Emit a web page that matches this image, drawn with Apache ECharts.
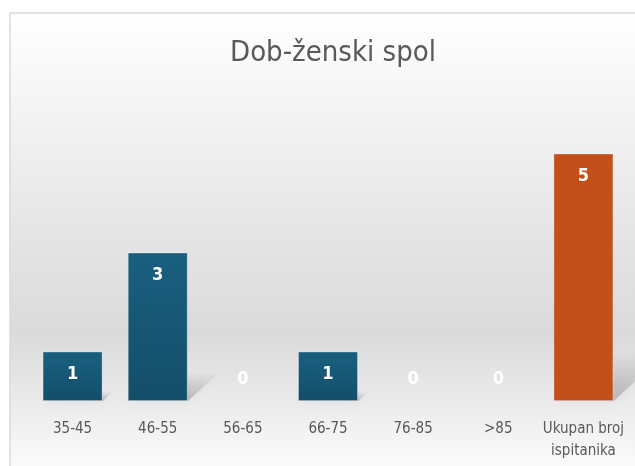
<!DOCTYPE html>
<html>
<head>
<meta charset="utf-8">
<script src="https://cdn.jsdelivr.net/npm/echarts@6/dist/echarts.min.js"></script>
<style>
  html, body { margin: 0; padding: 0; background: #fff; }
  #chart { width: 635px; height: 466px; }
</style>
</head>
<body>
<div id="chart"></div>
<script>
var titleText = 'Dob-ženski spol';
var categories = ['35-45', '46-55', '56-65', '66-75', '76-85', '>85', 'Ukupan broj\nispitanika'];
var values = [1, 3, 0, 1, 0, 0, 5];
var totalIndex = 6;

var narrow = "'Liberation Sans Narrow', 'DejaVu Sans Condensed', 'Liberation Sans', sans-serif";
var blueFill = new echarts.graphic.LinearGradient(0, 0, 0, 1, [
  { offset: 0, color: '#1a5f80' },
  { offset: 1, color: '#134e69' }
]);

var barData = values.map(function (v, i) {
  var item = {
    value: v,
    itemStyle: { color: i === totalIndex ? '#c2501a' : blueFill }
  };
  if (v === 0) {
    item.itemStyle.borderWidth = 0;
    item.label = { position: 'top', distance: 13 };
  }
  return item;
});

var shadowData = values.map(function (v, i) { return [i, v]; });

var chart = echarts.init(document.getElementById('chart'));
var option = {
  animation: false,
  backgroundColor: '#ffffff',
  graphic: [{
    type: 'rect',
    z: -10,
    shape: { x: 10, y: 13, width: 640, height: 470 },
    style: {
      stroke: '#d9d9d9',
      lineWidth: 1.5,
      fill: new echarts.graphic.LinearGradient(0, 0, 0, 1, [
        { offset: 0, color: '#ffffff' },
        { offset: 0.68, color: '#dadada' },
        { offset: 1, color: '#ffffff' }
      ])
    }
  }],
  title: {
    text: titleText,
    left: 328,
    top: 34,
    textAlign: 'center',
    textStyle: {
      fontFamily: narrow,
      fontSize: 29,
      fontWeight: 'normal',
      color: '#595959'
    }
  },
  grid: {
    left: 30,
    right: 9,
    top: 104,
    bottom: 65
  },
  xAxis: {
    type: 'category',
    data: categories,
    axisLine: { show: false },
    axisTick: { show: false },
    axisLabel: {
      margin: 17,
      interval: 0,
      fontFamily: narrow,
      fontSize: 15,
      lineHeight: 22,
      color: '#595959'
    }
  },
  yAxis: {
    type: 'value',
    min: 0,
    max: 6,
    show: false,
    splitLine: { show: false }
  },
  series: [{
    type: 'custom',
    z: 1,
    silent: true,
    data: shadowData,
    renderItem: function (params, api) {
      var base = api.coord([api.value(0), 0]);
      var top = api.coord([api.value(0), api.value(1)]);
      var w = api.size([1, 0])[0] * 0.71;
      var h = base[1] - top[1];
      if (h <= 0) return;
      var dx = h * 0.22, dy = h * 0.2;
      var x0 = base[0] - w / 2, x1 = base[0] + w / 2;
      return {
        type: 'polygon',
        shape: {
          points: [[x0, base[1]], [x1, base[1]], [x1 + dx, base[1] - dy], [x0 + dx, base[1] - dy]]
        },
        style: {
          fill: new echarts.graphic.LinearGradient(0, 1, 0, 0, [
            { offset: 0, color: 'rgba(0,0,0,0.2)' },
            { offset: 1, color: 'rgba(0,0,0,0)' }
          ]),
          shadowBlur: 12,
          shadowColor: 'rgba(0,0,0,0.25)'
        }
      };
    }
  }, {
    type: 'bar',
    z: 2,
    barWidth: 60,
    data: barData,
    itemStyle: {
      borderColor: 'rgba(255,255,255,0.3)',
      borderWidth: 1
    },
    label: {
      show: true,
      position: 'insideTop',
      distance: 14,
      color: '#ffffff',
      fontFamily: narrow,
      fontWeight: 'bold',
      fontSize: 18
    }
  }]
};
chart.setOption(option);
</script>
</body>
</html>
